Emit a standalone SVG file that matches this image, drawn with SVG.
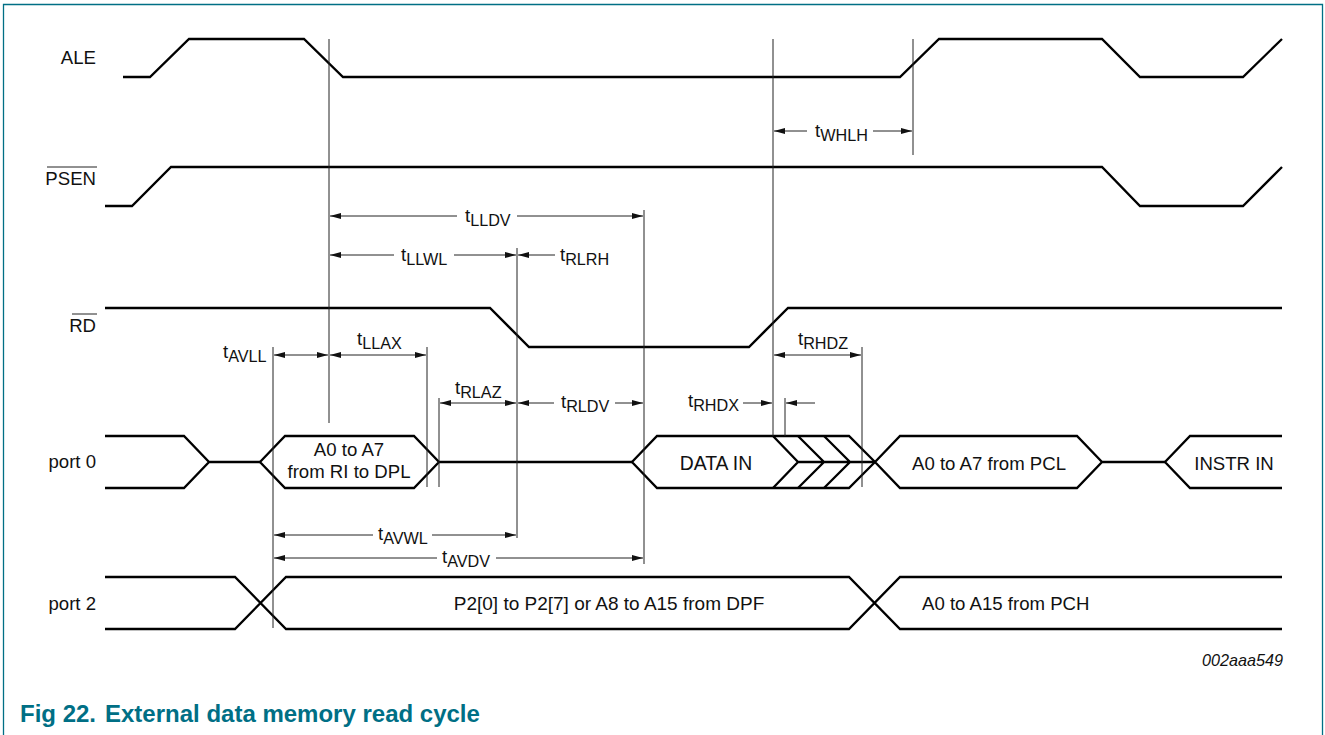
<svg xmlns="http://www.w3.org/2000/svg" width="1325" height="735" viewBox="0 0 1325 735">
<style>
.s{fill:none;stroke:#000;stroke-width:2.3}
.g{fill:none;stroke:#222;stroke-width:1}
.d{fill:none;stroke:#222;stroke-width:1;marker-end:url(#a)}
.b{fill:none;stroke:#222;stroke-width:1;marker-start:url(#r);marker-end:url(#a)}
text{font-family:"Liberation Sans",Arial,sans-serif;font-size:18.6px;fill:#111}
tspan{font-size:16.2px}
.m{text-anchor:middle}
.e{text-anchor:end}
.c{font-size:24px;font-weight:bold;fill:#006f85}
</style>
<defs>
<marker id="a" markerUnits="userSpaceOnUse" markerWidth="12" markerHeight="8" refX="11" refY="4" orient="auto"><path d="M0,1 L11,4 L0,7 Z" fill="#111"/></marker>
<marker id="r" markerUnits="userSpaceOnUse" markerWidth="12" markerHeight="8" refX="0" refY="4" orient="auto"><path d="M11,1 L0,4 L11,7 Z" fill="#111"/></marker>
</defs>
<path id="frame" d="M3.500,735 V4.500 H1322.500 V735" fill="none" stroke="#006f85" stroke-width="1.300"/>
<g id="signals">
<g id="ale"><path class="s" d="M123,77 H150 L189,39 H304 L343,77 H900 L939,39 H1102 L1140,77 H1243 L1282,39"/><text class="e" x="96" y="64">ALE</text></g>
<g id="psen"><path class="s" d="M105,206 H132 L171,167 H1102 L1140,206 H1243 L1282,167"/><text class="e" x="96" y="185">PSEN</text><path class="g" d="M47,167 H97"/></g>
<g id="rd"><path class="s" d="M105,308 H490 L529,347 H749 L788,308 H1282"/><text class="e" x="96" y="332">RD</text><path class="g" d="M72,314 H97"/></g>
<g id="port0">
<path class="s" d="M105,436 H184 L209,462 L184,488 H105 M209,462 H260"/>
<path class="s" d="M260,462 L285,436 H414 L439,462 L414,488 H285 Z M439,462 H632"/>
<path class="s" d="M875,462 L849,436 H657 L632,462 L657,488 H849 L875,462"/>
<path class="s" d="M773,436 L798,462 L773,488 M798,436 L824,462 L798,488 M824,436 L850,462 L824,488 M798,462 H875"/>
<path class="s" d="M875,462 L900,436 H1077 L1102,462 L1077,488 H900 Z M1102,462 H1165"/>
<path class="s" d="M1282,436 H1190 L1165,462 L1190,488 H1282"/>
<text class="e" x="96" y="468">port 0</text>
<text class="m" x="349" y="456">A0 to A7</text>
<text class="m" x="349" y="478">from RI to DPL</text>
<text class="m" x="716" y="470" style="font-size:19.400px">DATA IN</text>
<text class="m" x="989" y="470">A0 to A7 from PCL</text>
<text class="m" x="1234" y="470">INSTR IN</text>
</g>
<g id="port2">
<path class="s" d="M105,577 H235 L286,629 H849 L900,577 H1282 M105,629 H235 L286,577 H849 L900,629 H1282"/>
<text class="e" x="96" y="610">port 2</text>
<text class="m" x="609" y="610" style="font-size:19px">P2[0] to P2[7] or A8 to A15 from DPF</text>
<text x="922" y="610">A0 to A15 from PCH</text>
</g>
</g>
<g id="connectors">
<path class="g" d="M329,39 V423 M773,39 V436 M913,39 V155 M644,210 V564 M517,248 V538 M273,347 V628 M427,347 V487 M439,398 V487 M785,398 V436 M862,347 V487"/>
<path class="d" d="M807,131 H774"/><path class="d" d="M873,131 H912"/>
<path class="d" d="M457,216 H330"/><path class="d" d="M517,216 H643"/>
<path class="d" d="M394,255 H330"/><path class="d" d="M454,255 H516"/>
<path class="d" d="M555,255 H518"/>
<path class="b" d="M274,355 H328"/><path class="b" d="M330,355 H426"/>
<path class="b" d="M440,403 H516"/>
<path class="d" d="M554,403 H518"/><path class="d" d="M615,403 H643"/>
<path class="d" d="M743,403 H772"/><path class="d" d="M815,403 H786"/>
<path class="b" d="M774,355 H861"/>
<path class="d" d="M373,535 H274"/><path class="d" d="M432,535 H516"/>
<path class="d" d="M437,558 H274"/><path class="d" d="M496,558 H643"/>
</g>
<g id="timing-labels">
<text x="815" y="137">t<tspan dy="4">WHLH</tspan></text>
<text x="465" y="222">t<tspan dy="4">LLDV</tspan></text>
<text x="401" y="261">t<tspan dy="4">LLWL</tspan></text>
<text x="560" y="261">t<tspan dy="4">RLRH</tspan></text>
<text x="223" y="358">t<tspan dy="4">AVLL</tspan></text>
<text x="357" y="345">t<tspan dy="4">LLAX</tspan></text>
<text x="455" y="394">t<tspan dy="4">RLAZ</tspan></text>
<text x="561" y="408">t<tspan dy="4">RLDV</tspan></text>
<text x="688" y="407">t<tspan dy="4">RHDX</tspan></text>
<text x="798" y="345">t<tspan dy="4">RHDZ</tspan></text>
<text x="378" y="540">t<tspan dy="4">AVWL</tspan></text>
<text x="442" y="563">t<tspan dy="4">AVDV</tspan></text>
</g>
<text x="1283" y="666" text-anchor="end" style="font-size:16.200px;font-style:italic">002aaa549</text>
<text class="c" x="20" y="722">Fig 22.</text>
<text class="c" x="105" y="722">External data memory read cycle</text>
</svg>
